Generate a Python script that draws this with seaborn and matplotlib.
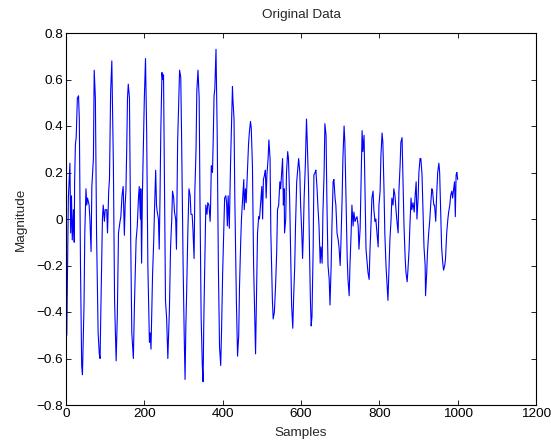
import matplotlib
matplotlib.use("Agg")
import matplotlib.pyplot as plt
import seaborn as sns
import pandas as pd

# ---- data (sample index, magnitude) ----
samples = [
    0, 2, 6, 10, 12, 14, 16, 19, 21, 22, 24, 26, 29, 32, 34, 37, 40, 42, 46, 48,
    51, 53, 55, 59, 61, 64, 66, 68, 70, 72, 75, 78, 82, 85, 87, 89, 93, 95, 98, 100,
    104, 106, 109, 111, 114, 117, 121, 124, 128, 131, 134, 138, 140, 143, 146, 149, 151, 153, 155, 157,
    159, 162, 165, 168, 172, 175, 179, 182, 185, 187, 190, 191, 193, 195, 197, 200, 203, 206, 209, 213,
    215, 217, 220, 221, 224, 226, 229, 231, 233, 236, 238, 240, 242, 245, 247, 249, 251, 254, 257, 260,
    264, 267, 270, 272, 275, 277, 280, 282, 283, 285, 288, 290, 293, 295, 299, 302, 304, 306, 308, 311,
    314, 317, 319, 322, 324, 327, 329, 332, 334, 337, 340, 342, 345, 348, 350, 352, 355, 357, 360, 362,
    365, 368, 369, 371, 374, 376, 378, 380, 383, 386, 389, 392, 395, 397, 400, 403, 405, 408, 410, 412,
    414, 417, 420, 422, 425, 426, 429, 431, 435, 438, 441, 443, 446, 448, 451, 454, 455, 458, 460, 463,
    466, 468, 471, 473, 476, 479, 482, 484, 487, 489, 492, 494, 497, 500, 502, 504, 507, 509, 511, 513,
    516, 518, 521, 523, 527, 529, 532, 535, 538, 540, 543, 546, 548, 551, 553, 555, 557, 558, 561, 563,
    566, 568, 571, 574, 576, 579, 581, 584, 586, 589, 591, 594, 597, 599, 602, 604, 606, 608, 611, 614,
    616, 619, 621, 624, 626, 628, 631, 633, 636, 638, 641, 643, 646, 649, 651, 654, 656, 659, 661, 664,
    666, 669, 672, 674, 677, 679, 682, 684, 687, 689, 692, 695, 697, 700, 702, 705, 707, 710, 712, 715,
    718, 720, 723, 725, 728, 730, 733, 735, 738, 740, 743, 746, 748, 751, 753, 756, 758, 761, 763, 766,
    769, 771, 774, 776, 779, 781, 784, 786, 789, 791, 794, 797, 799, 802, 804, 807, 809, 812, 814, 817,
    820, 822, 825, 827, 830, 832, 835, 837, 840, 843, 845, 848, 850, 853, 855, 858, 860, 863, 866, 868,
    871, 873, 876, 878, 881, 883, 886, 889, 891, 894, 896, 899, 901, 904, 906, 909, 912, 914, 917, 918,
    921, 923, 926, 929, 931, 934, 936, 939, 941, 944, 946, 949, 952, 954, 957, 959, 962, 964, 967, 969,
    972, 975, 977, 980, 982, 985, 987, 990, 992, 994, 996, 998, 1000,
]
magnitude = [
    -0.05, -0.50, 0.09, 0.24, -0.06, 0.10, -0.09, 0.04, -0.10, 0.16, 0.32, 0.35, 0.52, 0.53, 0.43, -0.20, -0.63, -0.67, -0.37, -0.06,
    0.13, 0.06, 0.09, 0.06, 0.00, -0.14, 0.14, 0.20, 0.26, 0.64, 0.52, -0.06, -0.49, -0.58, -0.60, -0.39, 0.00, 0.06, -0.01, 0.04,
    0.04, -0.06, 0.12, 0.17, 0.55, 0.68, 0.23, -0.35, -0.61, -0.42, -0.06, -0.01, 0.01, 0.10, 0.14, -0.07, 0.06, 0.12, 0.30, 0.52,
    0.58, 0.52, -0.06, -0.49, -0.60, -0.35, -0.09, -0.03, 0.09, 0.14, 0.00, 0.13, -0.19, 0.10, 0.27, 0.52, 0.69, 0.37, -0.20, -0.53,
    -0.49, -0.56, -0.32, -0.24, -0.09, 0.04, 0.21, 0.06, 0.03, 0.00, -0.13, 0.09, 0.37, 0.63, 0.60, 0.62, 0.23, -0.35, -0.43, -0.60,
    -0.39, -0.12, 0.00, 0.12, 0.09, 0.03, 0.00, -0.13, 0.03, 0.33, 0.52, 0.64, 0.61, 0.37, -0.20, -0.52, -0.69, -0.46, -0.32, -0.06,
    0.13, 0.10, 0.02, 0.02, -0.04, -0.17, 0.12, 0.30, 0.55, 0.64, 0.52, 0.09, -0.42, -0.63, -0.70, -0.42, -0.13, 0.06, 0.02, 0.07,
    0.06, -0.01, 0.04, 0.23, 0.20, 0.35, 0.53, 0.56, 0.73, 0.37, -0.20, -0.55, -0.63, -0.49, -0.23, -0.04, 0.09, 0.10, 0.07, -0.03,
    0.10, -0.04, 0.23, 0.37, 0.57, 0.52, 0.43, 0.09, -0.35, -0.59, -0.50, -0.29, -0.10, 0.00, 0.09, 0.17, 0.04, 0.13, 0.07, 0.20,
    0.32, 0.37, 0.42, 0.39, 0.23, -0.20, -0.42, -0.58, -0.27, -0.06, 0.01, 0.00, 0.07, 0.14, 0.00, 0.17, 0.19, 0.21, 0.09, 0.19,
    0.26, 0.34, 0.26, -0.06, -0.35, -0.43, -0.40, -0.29, -0.14, 0.04, 0.06, 0.16, 0.13, 0.21, 0.26, 0.06, 0.13, -0.06, 0.00, 0.20,
    0.29, 0.26, 0.09, -0.20, -0.37, -0.47, -0.35, -0.20, -0.03, 0.16, 0.20, 0.26, 0.20, 0.06, -0.06, -0.17, -0.06, 0.09, 0.23, 0.43,
    0.33, 0.16, -0.06, -0.35, -0.46, -0.42, -0.13, 0.19, 0.20, 0.21, 0.13, 0.06, -0.03, -0.19, -0.12, -0.19, 0.03, 0.20, 0.41, 0.36,
    0.09, -0.20, -0.26, -0.37, -0.20, -0.03, 0.16, 0.17, 0.09, 0.06, -0.06, -0.09, -0.12, -0.20, -0.10, 0.09, 0.26, 0.40, 0.33, 0.09,
    -0.17, -0.26, -0.33, -0.20, -0.06, 0.06, -0.03, 0.03, -0.01, 0.00, 0.01, -0.03, -0.13, -0.04, 0.12, 0.38, 0.29, 0.36, 0.16, -0.13,
    -0.19, -0.23, -0.26, -0.14, -0.01, 0.09, 0.12, 0.04, -0.01, 0.00, -0.06, -0.12, 0.06, 0.12, 0.27, 0.37, 0.33, 0.12, -0.06, -0.20,
    -0.29, -0.35, -0.20, -0.09, 0.00, 0.09, 0.06, 0.13, 0.10, 0.03, -0.01, -0.06, 0.12, 0.23, 0.33, 0.35, 0.20, -0.03, -0.17, -0.23,
    -0.27, -0.22, -0.13, -0.03, 0.09, 0.04, 0.07, 0.03, 0.09, 0.16, 0.00, 0.09, 0.20, 0.26, 0.26, 0.19, 0.01, -0.12, -0.20, -0.33,
    -0.23, -0.14, -0.06, 0.00, 0.06, 0.13, 0.12, 0.06, 0.06, -0.01, 0.09, 0.20, 0.24, 0.20, 0.00, -0.12, -0.19, -0.22, -0.20, -0.17,
    -0.06, 0.00, 0.03, 0.06, 0.10, 0.12, 0.09, 0.13, 0.16, 0.01, 0.19, 0.20, 0.17,
]
x_ticks = [0, 200, 400, 600, 800, 1000, 1200]
y_ticks = [-0.8, -0.6, -0.4, -0.2, 0.0, 0.2, 0.4, 0.6, 0.8]
y_tick_labels = ["\u22120.8", "\u22120.6", "\u22120.4", "\u22120.2", "0", "0.2", "0.4", "0.6", "0.8"]

df = pd.DataFrame({"Samples": samples, "Magnitude": magnitude})

sns.set_style("ticks")
plt.rcParams["font.family"] = ["Liberation Sans", "DejaVu Sans"]
FS = 9.7

fig = plt.figure(figsize=(5.51, 4.41), dpi=100)
ax = fig.add_axes([66 / 551, 1 - 405 / 441, 470 / 551, 372 / 441])

sns.lineplot(data=df, x="Samples", y="Magnitude", ax=ax, color="#0000ff",
             linewidth=0.8, estimator=None, sort=False)

ax.set_xlim(0, 1200)
ax.set_ylim(-0.8, 0.8)
ax.set_xticks(x_ticks)
ax.set_xticklabels([str(t) for t in x_ticks], fontsize=FS)
ax.set_yticks(y_ticks)
ax.set_yticklabels(y_tick_labels, fontsize=FS)
ax.tick_params(direction="in", length=3.5, width=0.6, top=True, right=True,
               colors="black", pad=2)
for s in ax.spines.values():
    s.set_visible(True)
    s.set_linewidth(0.8)
    s.set_color("black")

ax.set_title("Original Data", fontsize=FS, pad=10.5)
ax.set_xlabel("Samples", fontsize=FS, labelpad=5)
ax.set_ylabel("Magnitude", fontsize=FS, labelpad=7)

fig.savefig("out.png", dpi=100, facecolor="white")
